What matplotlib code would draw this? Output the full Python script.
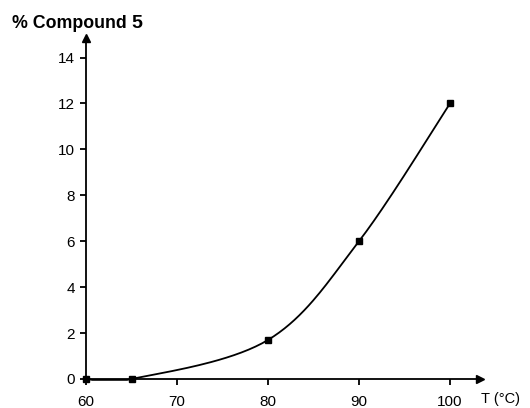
import numpy as np
import matplotlib
matplotlib.use("Agg")
import matplotlib.pyplot as plt

temps = [60, 65, 80, 90, 100]
compound5 = [0.0, 0.0, 1.7, 6.0, 12.0]
xticks = [60, 70, 80, 90, 100]
yticks = [0, 2, 4, 6, 8, 10, 12, 14]

plt.rcParams['font.family'] = ['Liberation Sans', 'DejaVu Sans']


def smooth_curve(xs, ys, n=40):
    # Excel-style smoothed line: cubic Bezier with control points at 1/6 of neighbour span
    p = np.column_stack([xs, ys]).astype(float)
    ext = np.vstack([p[0], p, p[-1]])
    out = []
    t = np.linspace(0, 1, n)[:, None]
    for i in range(len(p) - 1):
        p0, p1 = ext[i + 1], ext[i + 2]
        c1 = p0 + (ext[i + 2] - ext[i]) / 6
        c2 = p1 - (ext[i + 3] - ext[i + 1]) / 6
        seg = ((1 - t) ** 3) * p0 + 3 * ((1 - t) ** 2) * t * c1 + 3 * (1 - t) * t ** 2 * c2 + t ** 3 * p1
        out.append(seg)
    out = np.vstack(out)
    return out[:, 0], out[:, 1]


fig = plt.figure(figsize=(5.3, 4.08), dpi=100)
ax = fig.add_axes([0.1623, 0.0711, 0.7434, 0.8358])

sx, sy = smooth_curve(temps, compound5)
sy = np.maximum(sy, -0.04)  # curve hugs the axis between 60 and 65
ax.plot(sx, sy, color="black", linewidth=1.3, clip_on=False)
ax.plot(temps, compound5, linestyle="none", marker="s", markersize=5,
        color="black", clip_on=False)

ax.set_xlim(60, 103.3)
ax.set_ylim(0, 14.85)
ax.set_xticks(xticks)
ax.set_yticks(yticks)
for s in ["top", "right"]:
    ax.spines[s].set_visible(False)
for s in ["left", "bottom"]:
    ax.spines[s].set_linewidth(1.3)
ax.tick_params(direction="out", length=4, width=1.3, labelsize=11, pad=4)
ax.tick_params(axis="x", pad=7.5)

# axis arrowheads
ax.plot(1, 0, ">", color="black", markersize=6, transform=ax.transAxes, clip_on=False)
ax.plot(0, 1, "^", color="black", markersize=6, transform=ax.transAxes, clip_on=False)

fig.text(12 / 530, 1 - 28 / 408, "% Compound", fontsize=12.8, fontweight="bold",
         va="baseline", ha="left")
fig.text(131 / 530, 1 - 28 / 408, "5", fontsize=14, fontweight="bold", va="baseline", ha="left")
fig.text(481 / 530, 1 - 399 / 408, "T (°C)", fontsize=10.5, va="center", ha="left")

plt.savefig("out.png", dpi=100)
